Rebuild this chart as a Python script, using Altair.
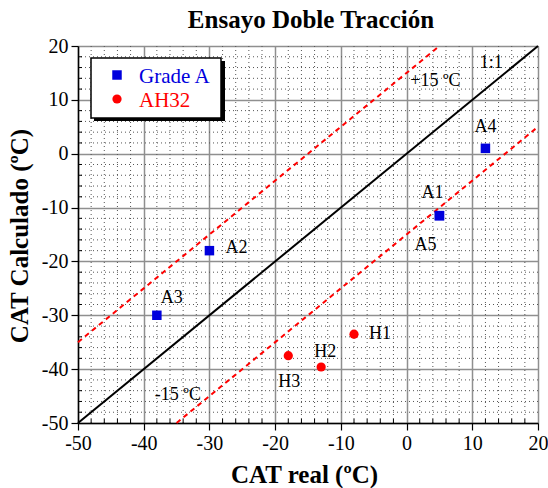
import altair as alt
import pandas as pd

# ---------------- data ----------------
grade_labels = ["A1", "A2", "A3", "A4", "A5"]
grade_x = [5, -30, -38, 12, 5]
grade_y = [-11.5, -18, -30, 1, -11.5]

ah_labels = ["H1", "H2", "H3"]
ah_x = [-8, -13, -18]
ah_y = [-33.5, -39.6, -37.5]

series_names = ["Grade A", "AH32"]
series_colors = ["#0000dd", "#ff0000"]

axis_ticks = [-50, -40, -30, -20, -10, 0, 10, 20]
minor_ticks = [v for v in range(-48, 20, 2) if v % 10 != 0]

line_1to1_x = [-50, 20]
line_1to1_y = [-50, 20]
line_p15_x = [-50, 5]
line_p15_y = [-35, 20]
line_m15_x = [-35, 20]
line_m15_y = [-50, 5]

annot_text = ["1:1", "+15 ºC", "-15 ºC"]
annot_x = [12.9, 4.4, -34.8]
annot_y = [16.9, 13.5, -44.8]

# label offsets in pixels (style)
label_offsets = {
    "A1": (-7, -23), "A2": (27, -3), "A3": (15, -17), "A4": (0, -21),
    "A5": (-14, 29), "H1": (26, 0), "H2": (4, -15), "H3": (1, 26),
}

FONT = "Liberation Serif"
BLUE, RED = series_colors
W, H = 460, 377

grade_df = pd.DataFrame({"label": grade_labels, "x": grade_x, "y": grade_y})
ah_df = pd.DataFrame({"label": ah_labels, "x": ah_x, "y": ah_y})
pts_df = pd.concat([grade_df, ah_df], ignore_index=True)
annot_df = pd.DataFrame({"text": annot_text, "x": annot_x, "y": annot_y})
minor_df = pd.DataFrame({"v": minor_ticks})
legend_df = pd.DataFrame({"name": series_names, "color": series_colors})

xs = alt.Scale(domain=[-50, 20], nice=False, zero=False)
ys = alt.Scale(domain=[-50, 20], nice=False, zero=False)

common_axis = dict(
    values=axis_ticks, grid=True, gridColor="#8f8f8f", gridWidth=1.5,
    domain=True, domainColor="black", domainWidth=1.5,
    ticks=True, tickSize=7, tickColor="black", tickWidth=1.2,
    labelFont=FONT, labelFontSize=20, labelColor="black", labelPadding=3,
    labelFlush=False, labelOverlap=False, labelExpr="'' + datum.value",
    titleFont=FONT, titleFontSize=25, titleFontWeight="bold", titleColor="black",
)
X_AXIS = alt.Axis(title="CAT real (ºC)", titleBaseline="alphabetic", titleY=59,
                  titleX=W / 2 - 4, **common_axis)
Y_AXIS = alt.Axis(title="CAT Calculado (ºC)", titleBaseline="alphabetic",
                  titleX=-51, titleY=H / 2 + 1, titleAngle=270, **common_axis)

def X(f="x"):
    return alt.X(f"{f}:Q", scale=xs, axis=X_AXIS)

def Y(f="y"):
    return alt.Y(f"{f}:Q", scale=ys, axis=Y_AXIS)

DOT = dict(color="#555555", strokeWidth=1, strokeDash=[1, 3])
minor_x = alt.Chart(minor_df).mark_rule(**DOT).encode(x=X("v"))
minor_y = alt.Chart(minor_df).mark_rule(**DOT).encode(y=Y("v"))
minor_tick_y = alt.Chart(minor_df).mark_rule(color="black", strokeWidth=1).encode(
    y=Y("v"), x=alt.value(0), x2=alt.value(4))
minor_tick_x = alt.Chart(minor_df).mark_rule(color="black", strokeWidth=1).encode(
    x=X("v"), y=alt.value(H), y2=alt.value(H - 4))

def line_layer(xv, yv, color, dash=None):
    df = pd.DataFrame({"x": xv, "y": yv})
    kw = dict(color=color, strokeWidth=2)
    if dash:
        kw["strokeDash"] = dash
    return alt.Chart(df).mark_line(**kw).encode(x=X(), y=Y())

l11 = line_layer(line_1to1_x, line_1to1_y, "black")
lp = line_layer(line_p15_x, line_p15_y, RED, [5, 4])
lm = line_layer(line_m15_x, line_m15_y, RED, [5, 4])

squares = alt.Chart(grade_df).mark_point(shape="square", filled=True, size=90, color=BLUE, opacity=1).encode(x=X(), y=Y())
circles = alt.Chart(ah_df).mark_circle(size=85, color=RED, opacity=1).encode(x=X(), y=Y())

label_layers = []
for lab, (dx, dy) in label_offsets.items():
    label_layers.append(
        alt.Chart(pts_df).transform_filter(alt.datum.label == lab)
        .mark_text(font=FONT, fontSize=18, color="black", dx=dx, dy=dy, baseline="middle", align="center")
        .encode(x=X(), y=Y(), text="label:N")
    )

annots = alt.Chart(annot_df).mark_text(font=FONT, fontSize=18, color="black", baseline="middle", align="center").encode(
    x=X(), y=Y(), text="text:N")

box_df = pd.DataFrame({"name": ["legend"]})
shadow = alt.Chart(box_df).mark_rect(color="black").encode(
    x=alt.value(16), x2=alt.value(147), y=alt.value(15), y2=alt.value(75))
box = alt.Chart(box_df).mark_rect(fill="white", stroke="black", strokeWidth=1.5).encode(
    x=alt.value(13), x2=alt.value(143), y=alt.value(12), y2=alt.value(72))

leg_sq = alt.Chart(legend_df).transform_filter(alt.datum.name == series_names[0]).mark_point(
    shape="square", filled=True, size=90, color=BLUE, opacity=1).encode(x=alt.value(39), y=alt.value(29))
leg_ci = alt.Chart(legend_df).transform_filter(alt.datum.name == series_names[1]).mark_circle(
    size=85, color=RED, opacity=1).encode(x=alt.value(39), y=alt.value(53))
leg_t1 = alt.Chart(legend_df).transform_filter(alt.datum.name == series_names[0]).mark_text(
    font=FONT, fontSize=21, color=BLUE, align="left", baseline="middle").encode(
    x=alt.value(61), y=alt.value(31), text="name:N")
leg_t2 = alt.Chart(legend_df).transform_filter(alt.datum.name == series_names[1]).mark_text(
    font=FONT, fontSize=21, color=RED, align="left", baseline="middle").encode(
    x=alt.value(61), y=alt.value(55), text="name:N")

chart = alt.layer(
    minor_x, minor_y, minor_tick_y, minor_tick_x,
    l11, lp, lm, squares, circles, *label_layers, annots,
    shadow, box, leg_sq, leg_ci, leg_t1, leg_t2,
).properties(
    width=W, height=H,
    title=alt.TitleParams("Ensayo Doble Tracción", font=FONT, fontSize=25, fontWeight="bold",
                          color="black", anchor="middle", baseline="alphabetic", offset=7, dy=24, dx=3),
    autosize=alt.AutoSizeParams(type="none"),
    padding={"left": 78, "top": 46, "right": 10, "bottom": 65},
).configure_view(stroke="black", strokeWidth=1.5).configure(background="white")

chart.save("out.html", embed_options={"renderer": "svg", "actions": False})
